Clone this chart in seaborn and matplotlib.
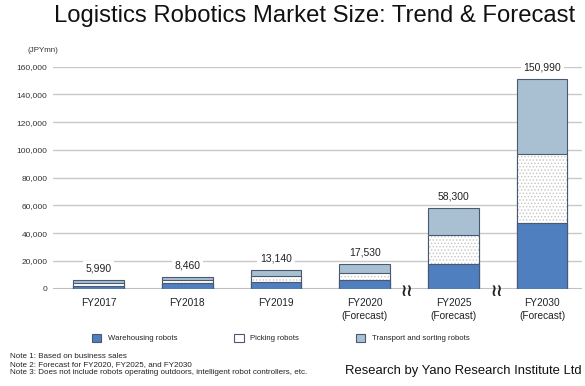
import matplotlib
matplotlib.use("Agg")
import matplotlib.pyplot as plt
import seaborn as sns
import pandas as pd
from matplotlib.patches import Patch
from matplotlib.ticker import FuncFormatter

# ---- data ----
categories = ["FY2017", "FY2018", "FY2019", "FY2020\n(Forecast)", "FY2025\n(Forecast)", "FY2030\n(Forecast)"]
warehousing = [2000, 3900, 5000, 6300, 18000, 47000]
picking = [2300, 2300, 4100, 5300, 21000, 50000]
transport = [1690, 2260, 4040, 5930, 19300, 53990]
totals = [5990, 8460, 13140, 17530, 58300, 150990]
total_labels = ["5,990", "8,460", "13,140", "17,530", "58,300", "150,990"]
series_names = ["Warehousing robots", "Picking robots", "Transport and sorting robots"]
yticks = [0, 20000, 40000, 60000, 80000, 100000, 120000, 140000, 160000]
notes = ["Note 1: Based on business sales",
         "Note 2: Forecast for FY2020, FY2025, and FY2030",
         "Note 3: Does not include robots operating outdoors, intelligent robot controllers, etc."]

sns.set_theme(style="white")
plt.rcParams['font.family'] = ['Liberation Sans', 'DejaVu Sans']
plt.rcParams['hatch.linewidth'] = 0.6

C_WARE = "#4f7fbf"
C_TRANS = "#a8c0d2"
C_EDGE = "#4a5870"

df = pd.DataFrame({
    "cat": categories,
    "ware": warehousing,
    "wp": [w + p for w, p in zip(warehousing, picking)],
    "all": [w + p + t for w, p, t in zip(warehousing, picking, transport)],
})

fig = plt.figure(figsize=(5.85, 3.86), dpi=100)
ax = fig.add_axes([53/585, 97.3/386, (582-53)/585, (288.7-66.7)/386])

W = 0.57
n = len(categories)
sns.barplot(data=df, x="cat", y="all", color=C_TRANS, width=W, saturation=1, ax=ax)
sns.barplot(data=df, x="cat", y="wp", color="white", width=W, saturation=1, ax=ax)
sns.barplot(data=df, x="cat", y="wp", color="white", width=W, saturation=1, ax=ax)
sns.barplot(data=df, x="cat", y="ware", color=C_WARE, width=W, saturation=1, ax=ax)

for i, p in enumerate(ax.patches):
    layer = i // n
    if layer == 1:
        p.set_hatch("....."); p.set_edgecolor("#c4c4c4"); p.set_linewidth(0)
    elif layer == 2:
        p.set_facecolor("none"); p.set_edgecolor(C_EDGE); p.set_linewidth(0.8)
    else:
        p.set_edgecolor(C_EDGE); p.set_linewidth(0.8)

ax.set_xlim(-0.515, 5.45)
ax.set_ylim(0, 160000)
ax.set_yticks(yticks)
ax.yaxis.set_major_formatter(FuncFormatter(lambda v, _: f"{int(v):,}"))
ax.grid(axis="y", color="#c8c8c8", linewidth=1.0)
ax.grid(axis="x", visible=False)
ax.set_axisbelow(True)
for s in ax.spines.values():
    s.set_visible(False)
ax.axhline(0, color="#bdbdbd", linewidth=1.5, zorder=0.5)
ax.set_xlabel("")
ax.set_ylabel("")
ax.tick_params(axis="y", length=0, labelsize=6.0, labelcolor="#333333", pad=4)
ax.tick_params(axis="x", length=0, labelsize=7.3, labelcolor="#222222", pad=7)
for lbl in ax.get_xticklabels():
    lbl.set_linespacing(1.35)

# value labels
for i, (tot, lab) in enumerate(zip(totals, total_labels)):
    ax.annotate(lab, xy=(i, tot), xytext=(0, 8.5), textcoords="offset points",
                ha="center", va="center", fontsize=7.5, color="#222222", zorder=5,
                bbox=dict(boxstyle="square,pad=0.25", fc="white", ec="none"),
                annotation_clip=False)

# axis break marks
for xb in [3.47, 4.49]:
    ax.text(xb, -1500, "≀≀", ha="center", va="center", fontsize=12, fontweight="bold",
            family=["DejaVu Sans"], color="#222222", clip_on=False, zorder=6)

# unit label
fig.text(27/585, 1 - 51/386, "(JPYmn)", fontsize=5.8, color="#333333", ha="left", va="center")

# title
fig.text(315/585, 1 - 16/386, "Logistics Robotics Market Size: Trend & Forecast",
         fontsize=17.2, color="#111111", ha="center", va="center")

# legend
handles = [Patch(facecolor=C_WARE, edgecolor=C_EDGE, linewidth=0.8),
           Patch(facecolor="white", edgecolor=C_EDGE, linewidth=0.8),
           Patch(facecolor=C_TRANS, edgecolor=C_EDGE, linewidth=0.8)]
leg = fig.legend(handles, series_names, loc="center left", bbox_to_anchor=(92/585, 1 - 338/386),
                 ncol=3, frameon=False, fontsize=5.6, handlelength=1.2, handleheight=1.2,
                 handletextpad=0.85, columnspacing=7.3, borderpad=0, borderaxespad=0)
for t in leg.get_texts():
    t.set_color("#222222")

# notes
for note, yy in zip(notes, [357, 364.5, 372]):
    fig.text(10/585, 1 - yy/386, note, fontsize=5.75, color="#222222", ha="left", va="center")

fig.text(345/585, 1 - 371/386, "Research by Yano Research Institute Ltd",
         fontsize=9.4, color="#111111", ha="left", va="center")

fig.savefig("out.png", dpi=100)
